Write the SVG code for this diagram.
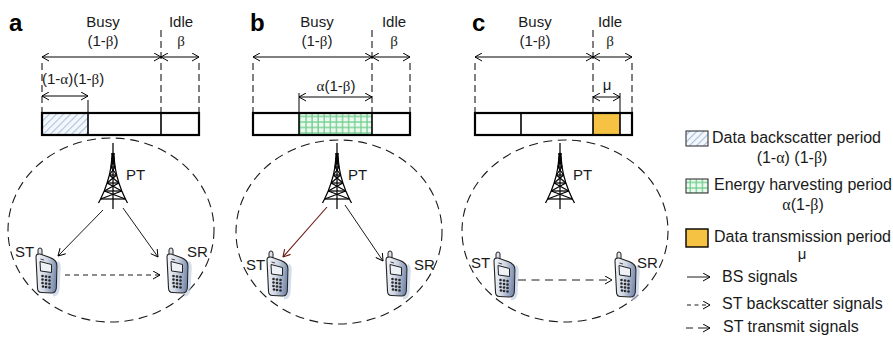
<svg xmlns="http://www.w3.org/2000/svg" xmlns:xlink="http://www.w3.org/1999/xlink" width="893" height="337" viewBox="0 0 893 337">
  <style>
    text { font-family: "Liberation Sans", Arial, sans-serif; font-size: 15px; fill: #1a1a1a; }
    .lg { font-size: 16px; }
    .panel { font-family: "Liberation Sans", Arial, sans-serif; font-weight: bold; font-size: 24px; fill: #000; }
    .gr { font-family: "Liberation Serif", "Times New Roman", serif; }
    .mid { text-anchor: middle; }
    .guide { stroke: #000; stroke-width: 1; stroke-dasharray: 7 4; fill: none; }
    .tick { stroke: #000; stroke-width: 1; fill: none; }
    .span { stroke: #000; stroke-width: 1; fill: none; marker-start: url(#open); marker-end: url(#open); }
    .bar { fill: none; stroke: #000; stroke-width: 2.2; }
    .div { stroke: #000; stroke-width: 1.6; }
    .cell { fill: #fff; }
    .cover { fill: none; stroke: #1a1a1a; stroke-width: 1.1; stroke-dasharray: 9 5.5; }
    .sig { stroke: #1a1a1a; stroke-width: 1; fill: none; marker-end: url(#open); }
    .bs { stroke-dasharray: 5 4; }
    .tx { stroke-dasharray: 8 5.5; }
    .tower line, .tower polyline { stroke: #000; stroke-width: 1.25; fill: none; }
  </style>
  <defs>
    <marker id="open" viewBox="0 0 8 9" refX="7.5" refY="4.5" markerWidth="8" markerHeight="9" markerUnits="userSpaceOnUse" orient="auto-start-reverse">
      <path d="M0.5,0.5 L7.5,4.5 L0.5,8.5" fill="none" stroke="#000" stroke-width="1"/>
    </marker>
    <marker id="openRed" viewBox="0 0 8 9" refX="7.5" refY="4.5" markerWidth="8" markerHeight="9" markerUnits="userSpaceOnUse" orient="auto">
      <path d="M0.5,0.5 L7.5,4.5 L0.5,8.5" fill="none" stroke="#6b1810" stroke-width="1.1"/>
    </marker>
    <pattern id="hatch" width="5" height="5" patternUnits="userSpaceOnUse" patternTransform="rotate(45)">
      <rect width="5" height="5" fill="#f4f7fb"/>
      <line x1="0" y1="0" x2="0" y2="5" stroke="#a9c3e0" stroke-width="2.2"/>
    </pattern>
    <pattern id="grid" width="6.1" height="5.5" patternUnits="userSpaceOnUse">
      <rect width="6.1" height="5.5" fill="#eef9f1"/>
      <line x1="1" y1="0" x2="1" y2="5.5" stroke="#6fd08c" stroke-width="1.3"/>
      <line x1="0" y1="1" x2="6.1" y2="1" stroke="#6fd08c" stroke-width="1.3"/>
    </pattern>
    <linearGradient id="phoneBody" x1="0" y1="0" x2="1" y2="0.2">
      <stop offset="0" stop-color="#f6f8fb"/>
      <stop offset="0.55" stop-color="#cfd6e3"/>
      <stop offset="1" stop-color="#7d8fb1"/>
    </linearGradient>
    <!-- handset clip-art: antenna stub, body, screen, keypad -->
    <g id="phone">
      <path d="M22.5,14 Q25,16 24,24 L23,42 Q22,47 18,47" fill="none" stroke="#b8c6e0" stroke-width="3" opacity="0.6"/>
      <rect x="3" y="0" width="4" height="9" rx="2" fill="#dfe4ec" stroke="#222" stroke-width="1"/>
      <path d="M1,9 Q1,5.5 5,6 L15,9.5 Q22,12 22,18 L21.3,40 Q21,45 16.5,45 L6.5,44.5 Q2.5,44.3 2.5,40 Z" fill="url(#phoneBody)" stroke="#222" stroke-width="1.1"/>
      <path d="M5,13.5 L16.5,16.5 L16.5,24.5 L5.5,23 Z" fill="#eef1f6" stroke="#222" stroke-width="1"/>
      <line x1="5.5" y1="11" x2="9" y2="12" stroke="#333" stroke-width="0.9"/>
      <g fill="#2a2a2a">
        <circle cx="7.5" cy="28" r="1.3"/><circle cx="11" cy="28.5" r="1.3"/><circle cx="14.5" cy="29" r="1.3"/>
        <circle cx="7.5" cy="31.5" r="1.3"/><circle cx="11" cy="32" r="1.3"/><circle cx="14.5" cy="32.5" r="1.3"/>
        <circle cx="7.5" cy="35" r="1.3"/><circle cx="11" cy="35.5" r="1.3"/><circle cx="14.5" cy="36" r="1.3"/>
        <circle cx="8" cy="38.5" r="1.3"/><circle cx="11" cy="39" r="1.3"/><circle cx="14.5" cy="39.5" r="1.3"/>
      </g>
    </g>
    <!-- lattice transmission tower, apex at origin -->
    <g id="tower" class="tower">
      <line x1="0" y1="0" x2="0" y2="66" stroke-width="1.5"/>
      <polyline points="-1,10 -1.2,16 -2.1,24 -3.6,32 -5.9,40 -8.8,48 -12.4,56 -14.5,60"/>
      <polyline points="1,10 1.2,16 2.1,24 3.6,32 5.9,40 8.8,48 12.4,56 14.5,60"/>
      <line x1="-1.2" y1="16" x2="1.2" y2="16"/>
      <line x1="-2.1" y1="24" x2="2.1" y2="24"/>
      <line x1="-3.6" y1="32" x2="3.6" y2="32"/>
      <line x1="-5.9" y1="40" x2="5.9" y2="40"/>
      <line x1="-8.8" y1="48" x2="8.8" y2="48"/>
      <line x1="-12.4" y1="56" x2="12.4" y2="56"/>
      <line x1="-1" y1="10" x2="1.2" y2="16"/><line x1="1" y1="10" x2="-1.2" y2="16"/>
      <line x1="-1.2" y1="16" x2="2.1" y2="24"/><line x1="1.2" y1="16" x2="-2.1" y2="24"/>
      <line x1="-2.1" y1="24" x2="3.6" y2="32"/><line x1="2.1" y1="24" x2="-3.6" y2="32"/>
      <line x1="-3.6" y1="32" x2="5.9" y2="40"/><line x1="3.6" y1="32" x2="-5.9" y2="40"/>
      <line x1="-5.9" y1="40" x2="8.8" y2="48"/><line x1="5.9" y1="40" x2="-8.8" y2="48"/>
      <line x1="-8.8" y1="48" x2="12.4" y2="56"/><line x1="8.8" y1="48" x2="-12.4" y2="56"/>
    </g>
  </defs>

  <!-- ===== Panel a ===== -->
  <g id="panel-a-frame">
    <text class="panel" x="9" y="31">a</text>
    <text class="mid" x="103" y="27">Busy</text>
    <text class="mid" x="103" y="46">(1-<tspan class="gr">β</tspan>)</text>
    <text class="mid" x="181" y="27">Idle</text>
    <text class="mid gr" x="181" y="46">β</text>
    <line class="guide" x1="161" y1="30" x2="161" y2="113"/>
    <line class="guide" x1="42" y1="63" x2="42" y2="113"/>
    <line class="guide" x1="199" y1="63" x2="199" y2="113"/>
    <line class="tick" x1="88" y1="100" x2="88" y2="113"/>
    <line class="span" x1="42" y1="57" x2="161" y2="57"/>
    <line class="span" x1="161" y1="57" x2="199" y2="57"/>
    <text x="42" y="84">(1-<tspan class="gr">α</tspan>)(1-<tspan class="gr">β</tspan>)</text>
    <line class="span" x1="42" y1="96" x2="88" y2="96"/>
    <rect class="cell" x="42" y="113" width="157" height="22"/>
    <rect x="42" y="113" width="46" height="22" fill="url(#hatch)"/>
    <line class="div" x1="88" y1="113" x2="88" y2="135"/>
    <line class="div" x1="161" y1="113" x2="161" y2="135"/>
    <rect class="bar" x="42" y="113" width="157" height="22"/>
  </g>
  <ellipse class="cover" cx="111" cy="230" rx="103" ry="92"/>
  <g id="pt-a"><use xlink:href="#tower" x="113" y="143"/><text x="126" y="180">PT</text></g>
  <g id="st-a"><use xlink:href="#phone" transform="translate(35,248)"/><text x="15" y="257">ST</text></g>
  <g id="sr-a"><use xlink:href="#phone" transform="translate(166,248)"/><text x="187" y="257">SR</text></g>

  <!-- ===== Panel b ===== -->
  <g id="panel-b-frame">
    <text class="panel" x="250" y="31">b</text>
    <text class="mid" x="317" y="27">Busy</text>
    <text class="mid" x="317" y="46">(1-<tspan class="gr">β</tspan>)</text>
    <text class="mid" x="394" y="27">Idle</text>
    <text class="mid gr" x="394" y="46">β</text>
    <line class="guide" x1="372" y1="30" x2="372" y2="113"/>
    <line class="guide" x1="253" y1="63" x2="253" y2="113"/>
    <line class="guide" x1="410" y1="63" x2="410" y2="113"/>
    <line class="tick" x1="299" y1="93" x2="299" y2="113"/>
    <line class="span" x1="253" y1="57" x2="372" y2="57"/>
    <line class="span" x1="372" y1="57" x2="410" y2="57"/>
    <text class="mid" x="336" y="91"><tspan class="gr">α</tspan>(1-<tspan class="gr">β</tspan>)</text>
    <line class="span" x1="299" y1="97" x2="372" y2="97"/>
    <rect class="cell" x="253" y="113" width="157" height="22"/>
    <rect x="299" y="113" width="73" height="22" fill="url(#grid)"/>
    <line class="div" x1="299" y1="113" x2="299" y2="135"/>
    <line class="div" x1="372" y1="113" x2="372" y2="135"/>
    <rect class="bar" x="253" y="113" width="157" height="22"/>
  </g>
  <ellipse class="cover" cx="339" cy="232" rx="103" ry="92"/>
  <g id="pt-b"><use xlink:href="#tower" x="337" y="143"/><text x="348" y="180">PT</text></g>
  <g id="st-b"><use xlink:href="#phone" transform="translate(266,251)"/><text x="246" y="270">ST</text></g>
  <g id="sr-b"><use xlink:href="#phone" transform="translate(385,251)"/><text x="414" y="270">SR</text></g>

  <!-- ===== Panel c ===== -->
  <g id="panel-c-frame">
    <text class="panel" x="472" y="31">c</text>
    <text class="mid" x="535" y="27">Busy</text>
    <text class="mid" x="535" y="46">(1-<tspan class="gr">β</tspan>)</text>
    <text class="mid" x="610" y="27">Idle</text>
    <text class="mid gr" x="610" y="46">β</text>
    <line class="guide" x1="593" y1="30" x2="593" y2="113"/>
    <line class="guide" x1="475" y1="63" x2="475" y2="113"/>
    <line class="guide" x1="632" y1="63" x2="632" y2="113"/>
    <line class="tick" x1="620" y1="93" x2="620" y2="113"/>
    <line class="span" x1="475" y1="57" x2="593" y2="57"/>
    <line class="span" x1="593" y1="57" x2="632" y2="57"/>
    <text class="mid" x="607" y="90">μ</text>
    <line class="span" x1="593" y1="97" x2="620" y2="97"/>
    <rect class="cell" x="475" y="113" width="157" height="22"/>
    <rect x="593" y="113" width="27" height="22" fill="#f6c244"/>
    <line class="div" x1="521" y1="113" x2="521" y2="135"/>
    <line class="div" x1="593" y1="113" x2="593" y2="135"/>
    <line class="div" x1="620" y1="113" x2="620" y2="135"/>
    <rect class="bar" x="475" y="113" width="157" height="22"/>
  </g>
  <ellipse class="cover" cx="565" cy="231" rx="103" ry="91"/>
  <g id="pt-c"><use xlink:href="#tower" x="560" y="143"/><text x="573" y="180">PT</text></g>
  <g id="st-c"><use xlink:href="#phone" transform="translate(493,252)"/><text x="471" y="268">ST</text></g>
  <g id="sr-c"><use xlink:href="#phone" transform="translate(614,252)"/><text x="637" y="268">SR</text></g>

  <!-- ===== Signal connectors ===== -->
  <g id="connectors">
    <line class="sig" x1="103" y1="210" x2="58" y2="256"/>
    <line class="sig" x1="123" y1="208" x2="158" y2="257"/>
    <line class="sig bs" x1="65" y1="275" x2="160" y2="275"/>
    <line x1="327" y1="207" x2="283" y2="257" stroke="#6b1810" stroke-width="1.1" marker-end="url(#openRed)"/>
    <line class="sig" x1="345" y1="205" x2="383" y2="261"/>
    <line class="sig tx" x1="518" y1="280" x2="612" y2="280"/>
  </g>

  <!-- ===== Legend ===== -->
  <g id="legend">
    <rect x="686" y="131" width="22" height="15" fill="url(#hatch)" stroke="#222" stroke-width="1"/>
    <text class="lg" x="712" y="143">Data backscatter period</text>
    <text class="lg mid" x="792" y="163">(1-<tspan class="gr">α</tspan>) (1-<tspan class="gr">β</tspan>)</text>
    <rect x="686" y="179" width="22" height="14" fill="url(#grid)" stroke="#222" stroke-width="1"/>
    <text class="lg" x="714" y="190">Energy harvesting period</text>
    <text class="lg mid" x="803" y="210"><tspan class="gr">α</tspan>(1-<tspan class="gr">β</tspan>)</text>
    <rect x="686" y="229" width="22" height="18" fill="#f6c244" stroke="#000" stroke-width="1.4"/>
    <text class="lg" x="714" y="242">Data transmission period</text>
    <text class="mid" x="802" y="259">μ</text>
    <line class="sig" x1="687" y1="277" x2="710" y2="277"/>
    <text class="lg" x="722" y="282">BS signals</text>
    <line class="sig" x1="687" y1="305" x2="710" y2="305" stroke-dasharray="4 3.5"/>
    <text class="lg" x="722" y="309">ST backscatter signals</text>
    <line class="sig" x1="686" y1="328" x2="710" y2="328" stroke-dasharray="7 5 20"/>
    <text class="lg" x="723" y="332">ST transmit signals</text>
  </g>
</svg>
